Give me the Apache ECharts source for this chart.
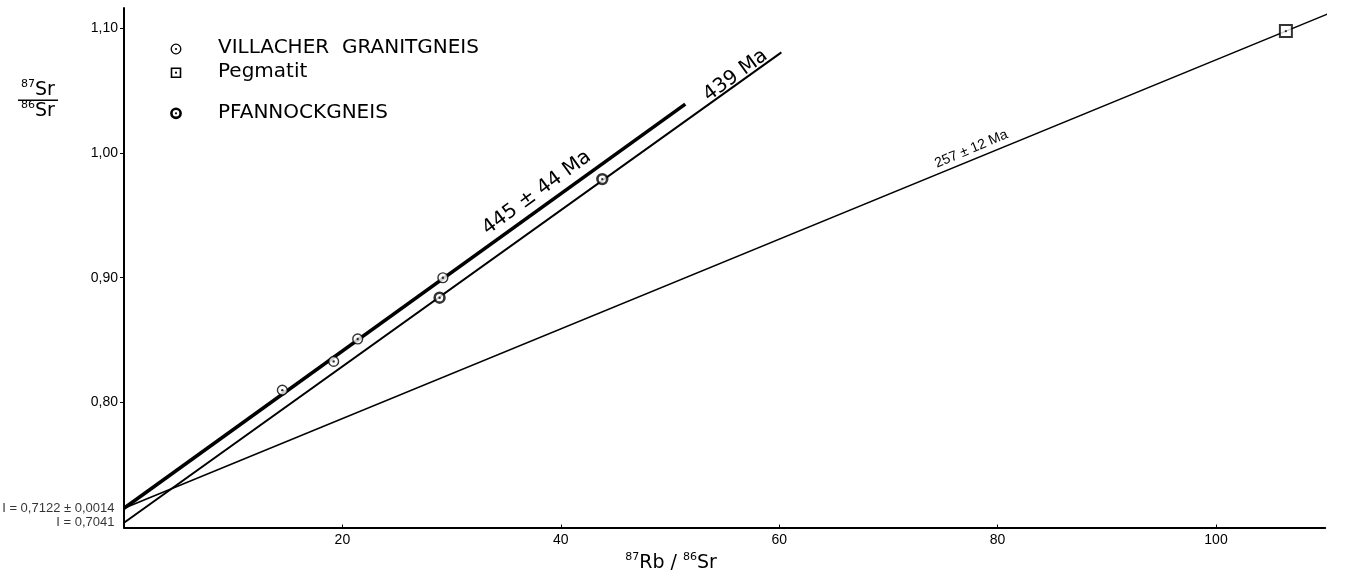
<!DOCTYPE html>
<html><head><meta charset="utf-8">
<script src="https://cdn.jsdelivr.net/npm/echarts@6/dist/echarts.min.js"></script>
<style>html,body{margin:0;padding:0;background:#fff}#c{width:1347px;height:579px}</style>
</head><body><div id="c"></div>
<script>
// ---- axis ticks ----
const xTickValues = [20, 40, 60, 80, 100];
const xTickLabels = ['20', '40', '60', '80', '100'];
const yTickValues = [0.8, 0.9, 1.0, 1.1];
const yTickLabels = ['0,80', '0,90', '1,00', '1,10'];

// ---- measured points (87Rb/86Sr, 87Sr/86Sr) ----
const villacherRb = [14.5, 19.2, 21.4, 29.2];
const villacherSr = [0.810, 0.833, 0.851, 0.900];
const pfannockRb = [28.9, 43.8];
const pfannockSr = [0.884, 0.979];
const pegmatitRb = [106.4];
const pegmatitSr = [1.0975];

// ---- isochrons (start / end) ----
const iso445Rb = [0, 51.4];
const iso445Sr = [0.7154, 1.039];
const iso439Rb = [0, 60.2];
const iso439Sr = [0.7038, 1.0805];
const iso257Rb = [0, 111];
const iso257Sr = [0.7154, 1.114];

// ---- annotation texts ----
const ageLabels = ['445 ± 44 Ma', '439 Ma', '257 ± 12 Ma'];
const interceptLabels = ['I = 0,7122 ± 0,0014', 'I = 0,7041'];
const legendLabels = ['VILLACHER  GRANITGNEIS', 'Pegmatit', 'PFANNOCKGNEIS'];

const INK = '#000';
const SMALL = "'Liberation Sans',Arial,sans-serif";
const SANS = "'DejaVu Sans',sans-serif";
const zip = (a, b) => a.map((v, i) => [v, b[i]]);

// annotation anchors (data coordinates) and styles
const ageAnchors = [
  { at: [37.8, 0.968], rotate: 36, size: 20, font: SANS },
  { at: [56.0, 1.062], rotate: 36, size: 20, font: SANS },
  { at: [77.6, 1.003], rotate: 23, size: 14, font: SMALL }
];

const chart = echarts.init(document.getElementById('c'), null, { renderer: 'canvas' });

function ringSeries(name, xs, ys, size, bw, symbol) {
  return [{
    name: name, type: 'scatter', data: zip(xs, ys), symbol: symbol, symbolSize: size, z: 5,
    itemStyle: { color: '#fff', borderColor: INK, borderWidth: bw }
  }, {
    name: name + '-dot', type: 'scatter', data: zip(xs, ys), symbol: 'circle', symbolSize: 2.4, z: 6,
    itemStyle: { color: INK }
  }];
}

function isoSeries(xs, ys, width) {
  return {
    type: 'line', data: zip(xs, ys), symbol: 'none', clip: false, z: 2,
    lineStyle: { color: INK, width: width }
  };
}

const series = [
  isoSeries(iso445Rb, iso445Sr, 3.6),
  isoSeries(iso439Rb, iso439Sr, 2.0),
  isoSeries(iso257Rb, iso257Sr, 1.6),
  ...ringSeries('Villacher', villacherRb, villacherSr, 9.8, 1.4, 'circle'),
  ...ringSeries('Pfannock', pfannockRb, pfannockSr, 9.8, 2.6, 'circle'),
  ...ringSeries('Pegmatit', pegmatitRb, pegmatitSr, 12, 2, 'rect'),
  {
    type: 'scatter', symbolSize: 1, z: 7, itemStyle: { color: 'rgba(0,0,0,0)' },
    data: ageLabels.map((t, i) => ({
      value: ageAnchors[i].at,
      label: { show: true, position: 'inside', formatter: t, rotate: ageAnchors[i].rotate,
        color: INK, opacity: 1, fontSize: ageAnchors[i].size, fontFamily: ageAnchors[i].font }
    })).concat([
      { value: [iso445Rb[0], iso445Sr[0]],
        label: { show: true, position: 'left', distance: 9, formatter: interceptLabels[0], color: INK, fontSize: 13, fontFamily: SMALL } },
      { value: [iso439Rb[0], iso439Sr[0]],
        label: { show: true, position: 'left', distance: 9, formatter: interceptLabels[1], color: INK, fontSize: 13, fontFamily: SMALL } }
    ])
  }
];

const legendRows = [49, 72.7, 113.3];
const graphic = [
  // legend symbols
  { type: 'circle', shape: { cx: 176, cy: legendRows[0], r: 4.8 }, style: { fill: '#fff', stroke: INK, lineWidth: 1.3 } },
  { type: 'circle', shape: { cx: 176, cy: legendRows[0], r: 1.1 }, style: { fill: INK } },
  { type: 'rect', shape: { x: 171.5, y: legendRows[1] - 4.5, width: 9, height: 9 }, style: { fill: '#fff', stroke: INK, lineWidth: 1.6 } },
  { type: 'circle', shape: { cx: 176, cy: legendRows[1], r: 1.1 }, style: { fill: INK } },
  { type: 'circle', shape: { cx: 176, cy: legendRows[2], r: 4.6 }, style: { fill: '#fff', stroke: INK, lineWidth: 2.6 } },
  { type: 'circle', shape: { cx: 176, cy: legendRows[2], r: 1.1 }, style: { fill: INK } }
].concat(legendLabels.map((t, i) => ({
  type: 'text', x: 218, y: legendRows[i] - 1,
  style: { text: t, fill: INK, font: '20px ' + SANS, textAlign: 'left', textVerticalAlign: 'middle', align: 'left', verticalAlign: 'middle' }
}))).concat([
  // y axis title (fraction)
  { type: 'text', x: 38, y: 90,
    style: { text: '{s|87}{b|Sr}', fill: INK, textAlign: 'center', textVerticalAlign: 'middle', align: 'center', verticalAlign: 'middle',
      rich: { s: { fontSize: 11, fontFamily: SANS, verticalAlign: 'top', fill: INK }, b: { fontSize: 19, fontFamily: SANS, lineHeight: 22, fill: INK } } } },
  { type: 'rect', shape: { x: 18, y: 99.5, width: 40, height: 1.6 }, style: { fill: INK } },
  { type: 'text', x: 38, y: 111,
    style: { text: '{s|86}{b|Sr}', fill: INK, textAlign: 'center', textVerticalAlign: 'middle', align: 'center', verticalAlign: 'middle',
      rich: { s: { fontSize: 11, fontFamily: SANS, verticalAlign: 'top', fill: INK }, b: { fontSize: 19, fontFamily: SANS, lineHeight: 22, fill: INK } } } },
  // x axis title
  { type: 'text', x: 671, y: 563,
    style: { text: '{s|87}{b|Rb / }{s|86}{b|Sr}', fill: INK, textAlign: 'center', textVerticalAlign: 'middle', align: 'center', verticalAlign: 'middle',
      rich: { s: { fontSize: 11, fontFamily: SANS, verticalAlign: 'top', fill: INK }, b: { fontSize: 19, fontFamily: SANS, lineHeight: 22, fill: INK } } } }
]);

chart.setOption({
  animation: false,
  backgroundColor: '#fff',
  grid: { left: 124, top: 8, right: 21.8, bottom: 51.5, containLabel: false },
  xAxis: {
    type: 'value', min: 0, max: 110, interval: 20,
    axisLine: { show: true, onZero: false, lineStyle: { color: INK, width: 2 } },
    axisTick: { show: true, inside: true, length: 3, customValues: xTickValues, lineStyle: { color: INK, width: 1 } },
    axisLabel: { show: true, margin: 6, customValues: xTickValues, color: INK, fontSize: 14, fontFamily: SMALL,
      formatter: v => { const i = xTickValues.indexOf(v); return i >= 0 ? xTickLabels[i] : ''; } },
    splitLine: { show: false }
  },
  yAxis: {
    type: 'value', min: 0.7, max: 1.116, interval: 0.1,
    axisLine: { show: true, onZero: false, lineStyle: { color: INK, width: 2 } },
    axisTick: { show: true, inside: false, length: 4, customValues: yTickValues, lineStyle: { color: INK, width: 1 } },
    axisLabel: { show: true, margin: 6, customValues: yTickValues, color: INK, fontSize: 14, fontFamily: SMALL,
      formatter: v => { const i = yTickValues.findIndex(t => Math.abs(t - v) < 1e-6); return i >= 0 ? yTickLabels[i] : ''; } },
    splitLine: { show: false }
  },
  series: series,
  graphic: graphic
});
</script></body></html>
